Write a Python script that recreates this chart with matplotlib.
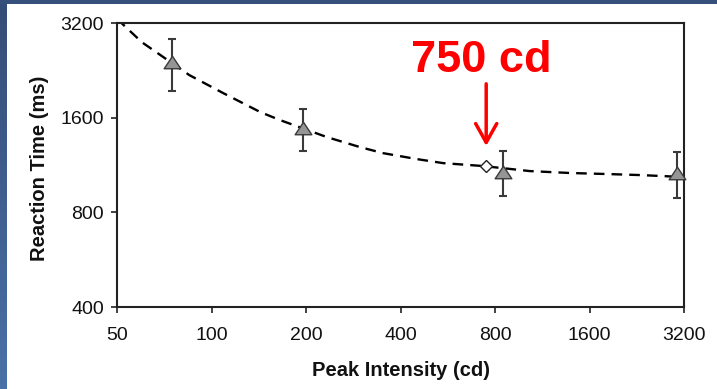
import numpy as np
import matplotlib.pyplot as plt
from matplotlib.path import Path
from matplotlib.colors import LinearSegmentedColormap

plt.rcParams['font.family'] = ['Liberation Sans', 'DejaVu Sans']

# measured points (peak intensity in cd, reaction time in ms)
intensity = [75, 195, 850, 3050]
rt_mean = [2400, 1480, 1077, 1067]
rt_err = [450, 230, 177, 178]

# fitted curve
curve_x = [50, 60, 85, 109, 143, 165, 233, 297, 352, 452, 547, 732, 1034, 1387, 1819, 2318, 3200]
curve_y = [3300, 2780, 2185, 1915, 1667, 1573, 1388, 1290, 1234, 1181, 1147, 1123, 1082, 1067, 1059, 1051, 1036]

marked_x = [750]
marked_y = [1123]

xticks = [50, 100, 200, 400, 800, 1600, 3200]
yticks = [400, 800, 1600, 3200]

W, H = 717, 389
fig = plt.figure(figsize=(W / 100, H / 100), dpi=100)
fig.patch.set_facecolor('white')

# slide background strips
bg = fig.add_axes([0, 0, 7 / W, 1])
cmap = LinearSegmentedColormap.from_list('slide', ['#344d76', '#4a71a7'])
bg.imshow(np.linspace(0, 1, 100).reshape(-1, 1), aspect='auto', cmap=cmap)
bg.axis('off')
top = fig.add_axes([0, 1 - 4 / H, 1, 4 / H])
top.set_facecolor('#35507a')
top.set_xticks([])
top.set_yticks([])
for s in top.spines.values():
    s.set_visible(False)

ax = fig.add_axes([117 / W, 1 - 307 / H, 567 / W, 284 / H])
ax.set_xscale('log', base=2)
ax.set_yscale('log', base=2)

ax.plot(curve_x, curve_y, color='black', lw=1.7, dashes=(4.5, 3.0), zorder=2)

tri = Path([(-1, -0.75), (1, -0.75), (0, 0.75), (-1, -0.75)],
           [Path.MOVETO, Path.LINETO, Path.LINETO, Path.CLOSEPOLY])
ax.errorbar(intensity, rt_mean, yerr=rt_err, fmt='none', ecolor='#3a3a3a',
            elinewidth=1.5, capsize=2.7, capthick=1.5, zorder=3, clip_on=False)
ax.plot(intensity, rt_mean, linestyle='none', marker=tri, markersize=12,
        markerfacecolor='#959595', markeredgecolor='#3a3a3a', markeredgewidth=1.0,
        zorder=4, clip_on=False)
ax.plot(marked_x, marked_y, linestyle='none', marker='D', markersize=6.5,
        markerfacecolor='white', markeredgecolor='#222222', markeredgewidth=1.0, zorder=4)

ax.annotate('', xy=(750, 1300), xytext=(750, 2050),
            arrowprops=dict(arrowstyle='->,head_length=0.68,head_width=0.38',
                            color='red', lw=2.5, mutation_scale=20,
                            shrinkA=0, shrinkB=0))
ax.text(725, 2233, '750 cd', color='red', fontsize=32.5, fontweight='bold',
        ha='center', va='baseline')

ax.set_xlim(50, 3200)
ax.set_ylim(400, 3200)
ax.set_xticks(xticks)
ax.set_xticklabels([str(v) for v in xticks])
ax.set_yticks(yticks)
ax.set_yticklabels([str(v) for v in yticks])
ax.minorticks_off()
ax.tick_params(axis='both', direction='out', length=4.3, width=1.2, color='#222222',
               labelsize=14, labelcolor='#111111')
ax.tick_params(axis='x', pad=10)
ax.tick_params(axis='y', pad=5)
for s in ax.spines.values():
    s.set_linewidth(1.5)
    s.set_color('#222222')

fig.text(40 / W, 1 - 168 / H, 'Reaction Time (ms)', rotation=90, ha='center',
         va='center', fontsize=14.5, fontweight='bold', color='#111111')
fig.text(400.5 / W, 1 - 371 / H, 'Peak Intensity (cd)', ha='center',
         va='center', fontsize=14.5, fontweight='bold', color='#111111')

fig.savefig('out.png', dpi=100)
